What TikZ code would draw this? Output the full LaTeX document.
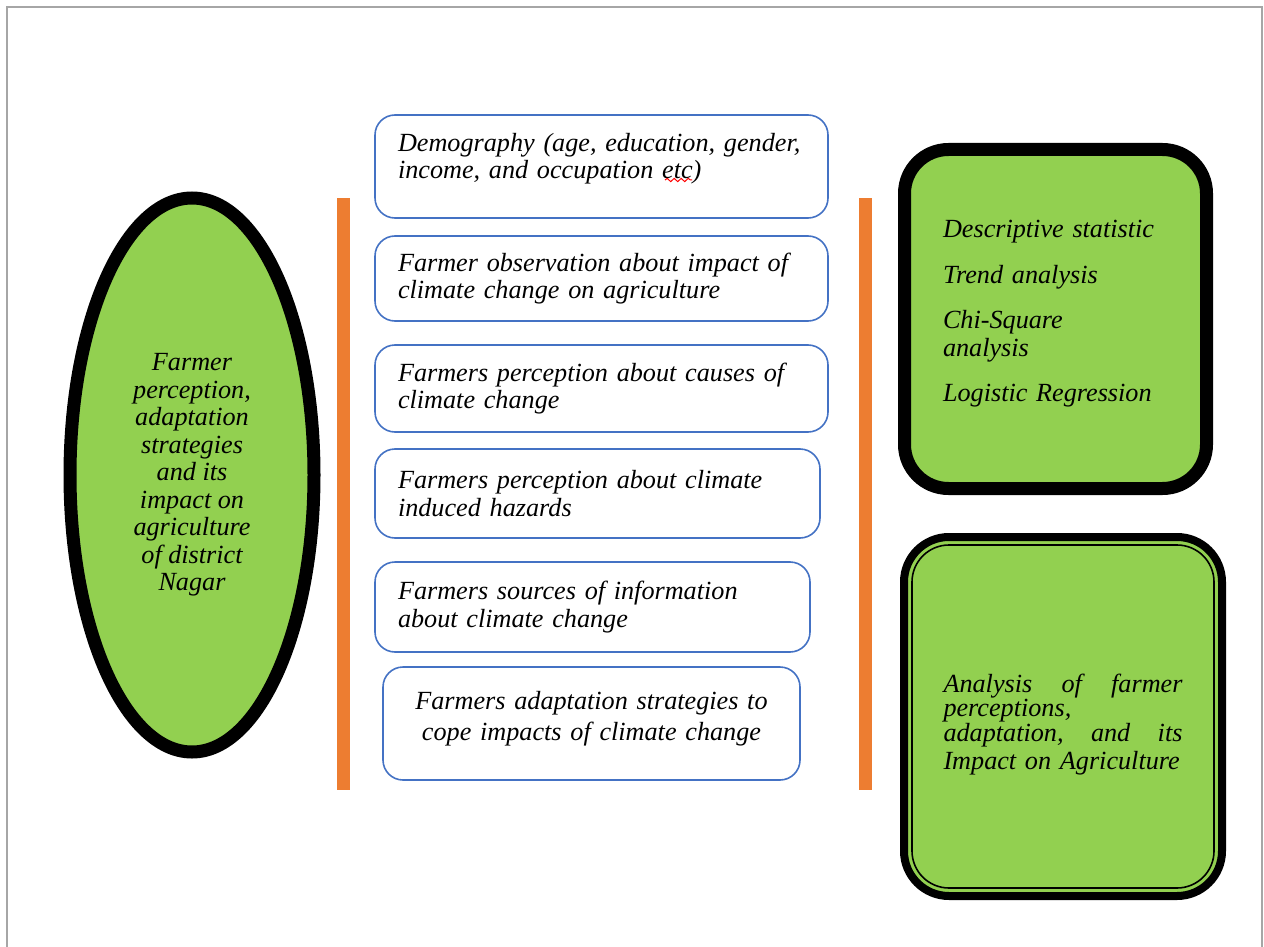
\documentclass[tikz,border=0pt]{standalone}
\usepackage{fontspec}
\setmainfont{Liberation Serif}
\usetikzlibrary{shapes.geometric,decorations.pathmorphing}
\definecolor{leaf}{HTML}{92D050}
\definecolor{bar}{HTML}{ED7D31}
\definecolor{edge}{HTML}{4472C4}
\definecolor{frame}{HTML}{A6A6A6}
\tikzset{
  txt/.style={font=\itshape\fontsize{13.1}{13.75}\selectfont},
  itembox/.style={txt, draw=edge, line width=0.8pt, rounded corners=10pt, fill=white,
    inner xsep=11.5pt, inner ysep=0pt, align=left},
  orangebar/.style={fill=bar, draw=none, minimum width=6.5pt, minimum height=296pt, inner sep=0pt},
  greenbox/.style={txt, fill=leaf, draw=black, inner sep=0pt},
}
\begin{document}
\begin{tikzpicture}[x=0.5pt,y=-0.5pt]
\useasboundingbox (0,0) rectangle (1264,947);
% page frame
\draw[frame, line width=1pt] (7,947) -- (7,7) -- (1262,7) -- (1262,947);

% ellipse
\node[txt, ellipse, fill=leaf, draw=black, line width=6.5pt, minimum width=122pt,
  minimum height=277pt, inner sep=0pt, align=center] (main) at (192,475)
  {Farmer\\perception,\\adaptation\\strategies\\and its\\impact on\\agriculture\\of district\\Nagar};

% orange bars
\node[orangebar] (barL) at (343.5,494) {};
\node[orangebar] (barR) at (865.5,494) {};

% item boxes
\node[itembox, minimum width=226.5pt, minimum height=51.5pt, text width=203.5pt] (b1) at (601.5,166.5)
  {\mbox{Demography (age, education, gender,}\\\mbox{income, and occupation etc)}\\[-3pt]\mbox{}};
\node[itembox, minimum width=226.5pt, minimum height=42.5pt, text width=203.5pt] (b2) at (601.5,278.5)
  {\mbox{Farmer observation about impact of}\\\mbox{climate change on agriculture}};
\node[itembox, minimum width=226.5pt, minimum height=43.5pt, text width=203.5pt] (b3) at (601.5,388.5)
  {\mbox{Farmers perception about causes of}\\\mbox{climate change}};
\node[itembox, minimum width=222.5pt, minimum height=44.5pt, text width=199.5pt] (b4) at (597.5,493.5)
  {\mbox{Farmers perception about climate}\\\mbox{induced hazards}};
\node[itembox, minimum width=217.5pt, minimum height=45pt, text width=194.5pt] (b5) at (592.5,607)
  {\mbox{Farmers sources of information}\\\mbox{about climate change}};
\node[itembox, align=center, inner xsep=4pt, minimum width=208.5pt, minimum height=56.5pt, text width=200pt] (b6) at (591.5,723.5)
  {\mbox{Farmers adaptation strategies to}\\[1.5pt]\mbox{cope impacts of climate change}\\[-6pt]\mbox{}};

% spell-check mark under "etc"
\draw[red, line width=0.5pt, decorate, decoration={snake, amplitude=0.8pt, segment length=3.5pt}]
  (665,180) -- (692,180);

% right top box
\node[greenbox, line width=6.5pt, rounded corners=22pt, minimum width=151pt, minimum height=169.5pt,
  text width=112.5pt, align=left] (methods) at (1055.5,319)
  {\mbox{Descriptive statistic}\\[9pt]\mbox{Trend analysis}\\[9pt]\mbox{Chi-Square}\\\mbox{analysis}\\[9pt]\mbox{Logistic Regression}\\[-6pt]\mbox{}};

% right bottom box, thick-thin outline
\node[greenbox, line width=4pt, rounded corners=22.5pt, minimum width=159pt, minimum height=179.5pt] (result) at (1063,716.5) {};
\node[txt, draw=black, line width=0.8pt, rounded corners=18.5pt, minimum width=151pt, minimum height=171.5pt, inner sep=0pt,
  align=left, text width=119.5pt] (resultin) at (1063,716.5)
  {\fontsize{13.1}{12.3}\selectfont
   \leavevmode\hbox to 119.5pt{\rule{0pt}{17pt}Analysis\hfill of\hfill farmer}\\
   \mbox{perceptions,}\\
   \leavevmode\hbox to 119.5pt{adaptation,\hfill and\hfill its}\\
   \mbox{Impact on Agriculture}};
\end{tikzpicture}
\end{document}
